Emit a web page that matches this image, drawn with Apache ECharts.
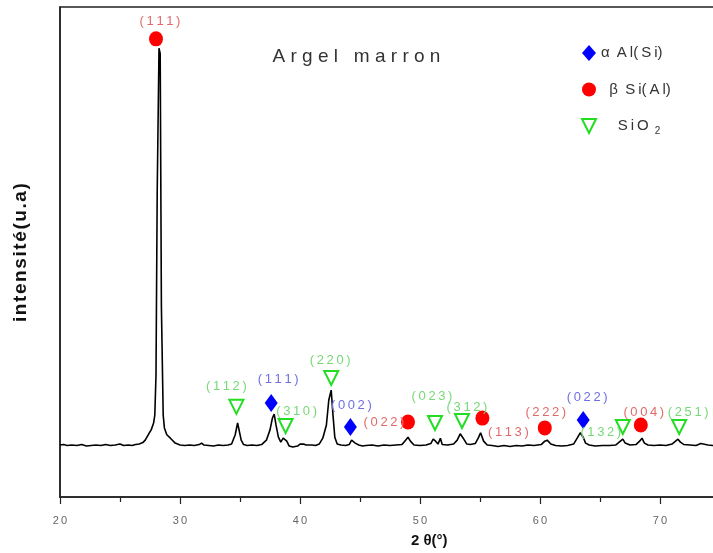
<!DOCTYPE html>
<html>
<head>
<meta charset="utf-8">
<script src="https://cdn.jsdelivr.net/npm/echarts@6/dist/echarts.min.js"></script>
<style>
  html, body { margin: 0; padding: 0; background: #fff; }
  #chart { width: 713px; height: 553px; }
</style>
</head>
<body>
<div id="chart"></div>
<script>
// XRD scan: [2θ (°), intensity (a.u.)]
const scan = [
  [20.0,106],[20.3,107],[20.6,105],[21.0,106],[21.4,105],[21.8,107],[22.2,104],[22.6,105],
  [23.0,106],[23.4,105],[23.8,107],[24.2,105],[24.6,106],[25.0,108],[25.3,105],[25.7,106],
  [26.0,105],[26.3,107],[26.6,108],[26.9,111],[27.1,116],[27.4,129],[27.6,137],[27.8,151],
  [27.9,167],[28.0,249],[28.1,620],[28.25,916],[28.35,905],[28.45,388],[28.6,167],[28.7,141],
  [28.9,127],[29.2,120],[29.6,110],[30.0,106],[30.4,105],[30.8,106],[31.2,105],[31.6,107],
  [31.8,110],[32.0,106],[32.4,105],[32.8,104],[33.2,106],[33.6,105],[34.0,106],[34.3,108],
  [34.6,127],[34.8,151],[34.9,147],[35.1,116],[35.3,107],[35.6,105],[36.0,106],[36.4,105],
  [36.8,107],[37.2,116],[37.5,137],[37.7,161],[37.85,169],[38.0,147],[38.2,122],[38.4,112],
  [38.6,120],[38.75,124],[38.9,114],[39.1,104],[39.4,102],[39.8,104],[40.0,108],[40.3,108],
  [40.5,106],[41.0,106],[41.3,105],[41.6,108],[41.9,120],[42.2,147],[42.4,198],[42.6,218],
  [42.75,167],[42.9,122],[43.1,108],[43.4,106],[43.8,105],[44.1,107],[44.3,116],[44.45,120],
  [44.6,110],[44.9,106],[45.2,104],[45.5,105],[46.0,106],[46.5,104],[47.0,106],[47.5,105],
  [48.0,106],[48.5,107],[48.8,116],[49.0,122],[49.2,114],[49.5,106],[50.0,105],[50.5,106],
  [50.9,109],[51.1,118],[51.3,114],[51.5,108],[51.6,108],[51.7,120],[51.85,107],[52.3,106],
  [52.8,108],[53.1,116],[53.35,129],[53.6,120],[53.9,108],[54.2,107],[54.6,109],[54.85,120],
  [55.05,131],[55.3,114],[55.6,106],[56.0,105],[56.5,103],[57.0,105],[57.5,103],[58.0,105],
  [58.5,104],[59.0,106],[59.5,105],[60.1,107],[60.4,114],[60.6,116],[60.9,108],[61.3,105],
  [61.8,104],[62.3,105],[62.8,108],[63.1,120],[63.35,131],[63.6,122],[63.8,110],[64.1,106],
  [64.6,104],[65.2,105],[65.8,105],[66.3,106],[66.7,114],[66.9,118],[67.1,110],[67.5,106],
  [68.0,107],[68.3,114],[68.5,120],[68.7,110],[69.0,106],[69.5,105],[70.0,106],[70.5,105],
  [71.0,108],[71.3,114],[71.5,118],[71.7,112],[72.0,107],[72.5,106],[73.0,105],[73.4,109],
  [73.6,108],[74.0,106],[74.4,105],[75.0,106]
];

// Phase markers: [2θ, marker height, (hkl)]
const alphaAl = [[37.6,192,'111'],[44.2,143,'002'],[63.6,157,'022']];
const betaSi  = [[28.0,935,'111'],[49.0,153,'022'],[55.2,161,'113'],[60.4,141,'222'],[68.4,147,'004']];
const quartz  = [[34.7,184,'112'],[38.8,145,'310'],[42.6,243,'220'],[51.25,151,'023'],[53.5,155,'312'],[66.9,143,'132'],[71.6,143,'251']];

const xTicks = [20, 30, 40, 50, 60, 70, 80];
const phaseNames = ['α Al(Si)', 'β Si(Al)', 'SiO2'];

// label offsets (px) from each marker's centre, in the same order as the marker lists
const alphaOffsets  = [[7,-23],[1,-22],[4,-23]];
const betaOffsets   = [[4,-17],[-24,0],[26,14],[1,-15],[3,-13]];
const quartzOffsets = [[-10,-20],[11,-15],[-1,-18],[-3,-27],[5,-14],[-22,5],[9,-15]];

const THIN = '\u2009';
const HAIR = '\u200A';
const spaced = s => s.split('').join(THIN);
const hklText = h => '(' + THIN + spaced(h) + THIN + ')';
const FONT = '"Liberation Sans", Arial, sans-serif';
const DOWN_TRIANGLE = 'path://M0,0 L20,0 L10,20 Z';

function markerData(list, offsets, color) {
  return list.map((p, i) => ({
    value: [p[0], p[1]],
    label: {
      show: true,
      position: 'inside',
      offset: offsets[i],
      formatter: hklText(p[2]),
      color: color,
      fontSize: 13,
      fontFamily: FONT,
      align: 'center',
      verticalAlign: 'middle'
    }
  }));
}

const chart = echarts.init(document.getElementById('chart'), null, { renderer: 'canvas' });

chart.setOption({
  animation: false,
  backgroundColor: '#fff',
  title: {
    text: 'A r g e l   m a r r o n',
    left: 'center',
    top: 42,
    textStyle: { fontSize: 19, fontWeight: 'normal', color: '#333', fontFamily: FONT }
  },
  legend: {
    orient: 'vertical',
    left: 576,
    top: 40,
    itemGap: 21,
    itemWidth: 14,
    itemHeight: 16,
    data: [
      { name: phaseNames[0] },
      { name: phaseNames[1] },
      {
        name: phaseNames[2],
        icon: DOWN_TRIANGLE,
        itemStyle: { color: 'rgba(0,0,0,0)', borderColor: '#22dd22', borderWidth: 2 }
      }
    ],
    selectedMode: false,
    textStyle: {
      fontSize: 15, color: '#333', fontFamily: FONT,
      rich: { sub: { fontSize: 10, color: '#333', padding: [10, 0, 0, 2], fontFamily: FONT } }
    },
    formatter: name => {
      if (name === phaseNames[0]) return 'α' + THIN + ' A' + THIN + 'l(' + THIN + 'S' + THIN + 'i)';
      if (name === phaseNames[1]) return '  β' + THIN + ' S' + THIN + 'i(' + THIN + 'A' + THIN + 'l)';
      return '    S' + THIN + 'i' + THIN + 'O {sub|2}';
    }
  },
  grid: {
    left: 60, top: 7, right: -67, bottom: 56,
    outerBoundsMode: 'none',
    containLabel: false,
    show: true, borderColor: '#222', borderWidth: 1.5
  },
  xAxis: {
    type: 'value',
    min: xTicks[0],
    max: xTicks[xTicks.length - 1],
    interval: 10,
    axisLine: { show: true, lineStyle: { color: '#222', width: 1.5 } },
    axisTick: { show: true, inside: false, length: 7, lineStyle: { color: '#222', width: 1.2 } },
    minorTick: { show: true, splitNumber: 2, length: 5, lineStyle: { color: '#222', width: 1.2 } },
    splitLine: { show: false },
    axisLabel: {
      margin: 18, fontSize: 11, color: '#666', fontFamily: FONT,
      formatter: v => spaced(String(v))
    }
  },
  yAxis: {
    type: 'value',
    min: 0,
    max: 1000,
    axisLine: { show: true, lineStyle: { color: '#222', width: 1.5 } },
    axisTick: { show: false },
    axisLabel: { show: false },
    splitLine: { show: false }
  },
  graphic: [
    {
      type: 'text',
      left: 411, top: 533,
      style: { text: '2 θ(°)', fill: '#111', font: 'bold 15px ' + FONT }
    },
    {
      type: 'text',
      x: 11, y: 322,
      rotation: Math.PI / 2,
      style: { text: 'intensité(u.a)'.split('').join(HAIR), fill: '#111', font: 'bold 19px ' + FONT }
    }
  ],
  series: [
    {
      type: 'line',
      name: 'scan',
      data: scan,
      showSymbol: false,
      lineStyle: { color: '#000', width: 1.6 },
      z: 2
    },
    {
      type: 'scatter',
      name: phaseNames[0],
      symbol: 'diamond',
      symbolSize: [13, 18],
      itemStyle: { color: '#0000ff', opacity: 1 },
      data: markerData(alphaAl, alphaOffsets, '#6f6fe0'),
      z: 3
    },
    {
      type: 'scatter',
      name: phaseNames[1],
      symbol: 'circle',
      symbolSize: [14, 15],
      itemStyle: { color: '#ff0000', opacity: 1 },
      data: markerData(betaSi, betaOffsets, '#e06a6a'),
      z: 3
    },
    {
      type: 'scatter',
      name: phaseNames[2],
      symbol: DOWN_TRIANGLE,
      symbolSize: [14, 14],
      itemStyle: { color: 'rgba(0,0,0,0)', borderColor: '#22dd22', borderWidth: 2, opacity: 1 },
      data: markerData(quartz, quartzOffsets, '#77d877'),
      z: 3
    }
  ]
});
</script>
</body>
</html>
